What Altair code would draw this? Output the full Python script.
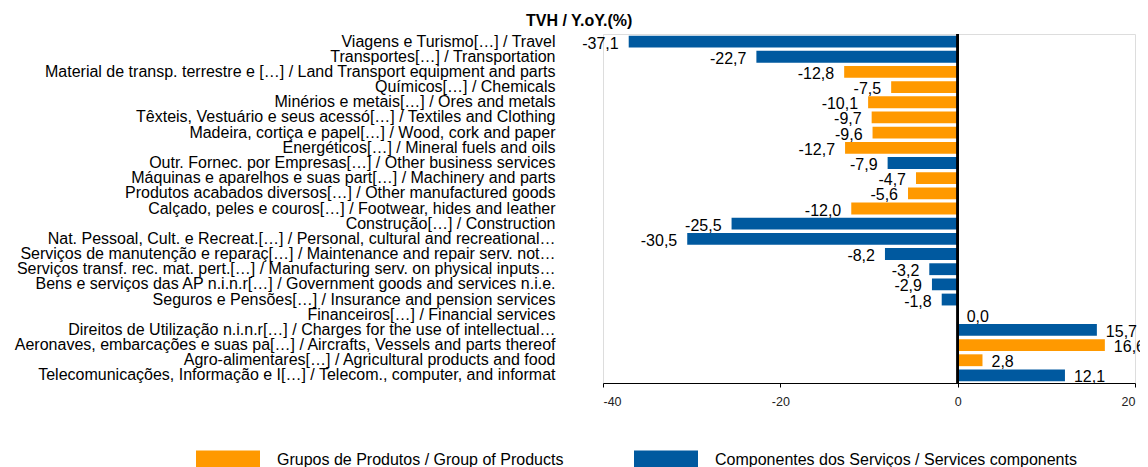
import altair as alt
import pandas as pd

categories = [
    "Viagens e Turismo[…] / Travel",
    "Transportes[…] / Transportation",
    "Material de transp. terrestre e […] / Land Transport equipment and parts",
    "Químicos[…] / Chemicals",
    "Minérios e metais[…] / Ores and metals",
    "Têxteis, Vestuário e seus acessó[…] / Textiles and Clothing",
    "Madeira, cortiça e papel[…] / Wood, cork and paper",
    "Energéticos[…] / Mineral fuels and oils",
    "Outr. Fornec. por Empresas[…] / Other business services",
    "Máquinas e aparelhos e suas part[…] / Machinery and parts",
    "Produtos acabados diversos[…] / Other manufactured goods",
    "Calçado, peles e couros[…] / Footwear, hides and leather",
    "Construção[…] / Construction",
    "Nat. Pessoal, Cult. e Recreat.[…] / Personal, cultural and recreational…",
    "Serviços de manutenção e reparaç[…] / Maintenance and repair serv. not…",
    "Serviços transf. rec. mat. pert.[…] / Manufacturing serv. on physical inputs…",
    "Bens e serviços das AP n.i.n.r[…] / Government goods and services n.i.e.",
    "Seguros e Pensões[…] / Insurance and pension services",
    "Financeiros[…] / Financial services",
    "Direitos de Utilização n.i.n.r[…] / Charges for the use of intellectual…",
    "Aeronaves, embarcações e suas pa[…] / Aircrafts, Vessels and parts thereof",
    "Agro-alimentares[…] / Agricultural products and food",
    "Telecomunicações, Informação e I[…] / Telecom., computer, and informat",
]
values = [-37.1, -22.7, -12.8, -7.5, -10.1, -9.7, -9.6, -12.7, -7.9, -4.7, -5.6, -12.0,
          -25.5, -30.5, -8.2, -3.2, -2.9, -1.8, 0.0, 15.7, 16.6, 2.8, 12.1]
groups = ["S", "S", "P", "P", "P", "P", "P", "P", "S", "P", "P", "P",
          "S", "S", "S", "S", "S", "S", "S", "S", "P", "P", "S"]

PROD = "Grupos de Produtos / Group of Products"
SERV = "Componentes dos Serviços / Services components"
series_names = [PROD, SERV]
series_colors = ["#FF9900", "#00599F"]

df = pd.DataFrame({
    "cat": categories,
    "val": values,
    "grp": [PROD if g == "P" else SERV for g in groups],
})

FONT = "Liberation Sans"

y_enc = alt.Y(
    "cat:N", sort=categories, title=None,
    scale=alt.Scale(paddingInner=0.22, paddingOuter=0.11),
    axis=alt.Axis(domain=False, ticks=False, labelPadding=48, labelFontSize=16,
                  labelColor="black", labelLimit=1000, labelFont=FONT),
)
x_enc = alt.X(
    "val:Q", title=None,
    scale=alt.Scale(domain=[-40, 20], nice=False),
    axis=alt.Axis(values=[-40, -20, 0, 20], grid=False, domainColor="black",
                  tickColor="black", tickSize=4, labelFontSize=12.5, labelPadding=8,
                  labelColor="#222222", labelFont=FONT, labelExpr="datum.value + ''"),
)

base = alt.Chart(df).transform_calculate(
    lbl="replace(replace(format(datum.val, '.1f'), '−', '-'), '.', ',')"
)

bars = base.mark_bar().encode(
    y=y_enc,
    x=x_enc,
    color=alt.Color(
        "grp:N", title=None,
        scale=alt.Scale(domain=series_names, range=series_colors),
        legend=alt.Legend(
            orient="none", legendX=-407, legendY=394, direction="horizontal", columns=2,
            symbolType="M-1,-0.3L1,-0.3L1,0.3L-1,0.3Z", symbolSize=4096,
            symbolStrokeWidth=0, symbolOpacity=1, padding=0,
            labelFontSize=16, labelFont=FONT, labelColor="black", labelOffset=17,
            columnPadding=70, labelLimit=1000,
        ),
    ),
)

neg_labels = base.transform_filter("datum.val < 0").mark_text(
    align="right", baseline="middle", dx=-10, dy=2, fontSize=16, font=FONT, color="black"
).encode(y=alt.Y("cat:N", sort=categories), x="val:Q", text="lbl:N")

pos_labels = base.transform_filter("datum.val >= 0").mark_text(
    align="left", baseline="middle", dx=9, dy=2, fontSize=16, font=FONT, color="black"
).encode(y=alt.Y("cat:N", sort=categories), x="val:Q", text="lbl:N")

zero = alt.Chart(df).mark_rule(color="black", strokeWidth=1.5).encode(x=alt.datum(0))

chart = alt.layer(bars, zero, neg_labels, pos_labels).properties(
    width=532, height=349,
    autosize=alt.AutoSizeParams(type="none"),
    padding={"left": 595, "top": 26, "right": 5, "bottom": 96},
    title=alt.TitleParams("TVH / Y.oY.(%)", fontSize=16, fontWeight="bold", font=FONT,
                          anchor="middle", frame="bounds", offset=4, color="black"),
).configure_view(stroke=None).configure(background="white")

chart.save("out.html", embed_options={"renderer": "svg", "actions": False})
